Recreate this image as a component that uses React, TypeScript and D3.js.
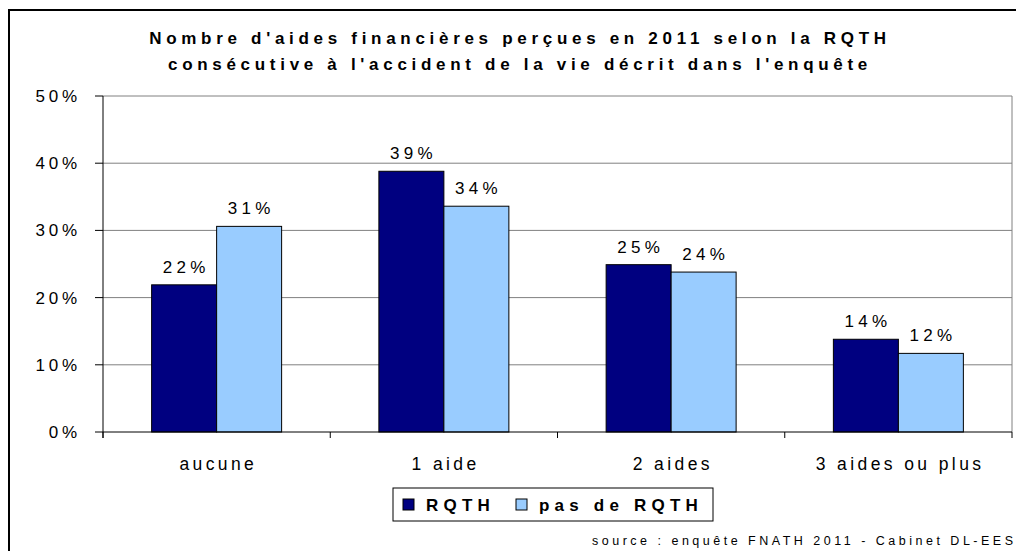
import React from "react";
import * as d3 from "d3";

const categories = ["aucune", "1 aide", "2 aides", "3 aides ou plus"];
const seriesNames = ["RQTH", "pas de RQTH"];
const rqth = [21.9, 38.8, 24.9, 13.8];
const pasRqth = [30.6, 33.6, 23.8, 11.7];
const labelsRqth = ["22%", "39%", "25%", "14%"];
const labelsPas = ["31%", "34%", "24%", "12%"];
const yTicks = [0, 10, 20, 30, 40, 50];
const titleLines = [
  "Nombre d'aides financières perçues en 2011 selon la RQTH",
  "consécutive à l'accident de la vie décrit dans l'enquête",
];
const sourceText = "source : enquête FNATH 2011 - Cabinet DL-EES";

const colors = ["#000080", "#99CCFF"];

export default function App() {
  const W = 1016, H = 551;
  const left = 103, right = 1012, top = 96, bottom = 432;
  const x = d3.scaleBand<string>().domain(categories).range([left, right]).paddingInner(0.428).paddingOuter(0.214);
  const y = d3.scaleLinear().domain([0, 50]).range([bottom, top]);
  const bw = x.bandwidth() / 2;
  const font = "Arial, 'Liberation Sans', sans-serif";
  const series = [
    { vals: rqth, labels: labelsRqth },
    { vals: pasRqth, labels: labelsPas },
  ];
  const step = (right - left) / categories.length;
  const boundaries = d3.range(categories.length + 1).map((i) => left + i * step);

  return (
    <svg width={W} height={H} style={{ position: "absolute", left: 0, top: 0, background: "#fff" }} fontFamily={font}>
      <rect x={0} y={0} width={W} height={H} fill="#fff" />
      <rect x={9} y={10} width={1030} height={600} fill="none" stroke="#000" strokeWidth={2} />
      {titleLines.map((t, i) => (
        <text key={i} x={520} y={44 + i * 26} textAnchor="middle" fontSize={17} fontWeight="bold" letterSpacing={4.7} fill="#000">
          {t}
        </text>
      ))}
      {yTicks.map((t) => (
        <g key={t}>
          {t > 0 && <line x1={left} x2={right} y1={y(t)} y2={y(t)} stroke="#808080" strokeWidth={1} />}
          <line x1={95} x2={left} y1={y(t)} y2={y(t)} stroke="#000" strokeWidth={1} />
          <text x={81} y={y(t) + 6} textAnchor="end" fontSize={17} letterSpacing={3.8} fill="#000">
            {t + "%"}
          </text>
        </g>
      ))}
      <line x1={right} x2={right} y1={top} y2={bottom} stroke="#808080" strokeWidth={1} />
      {series.map((s, si) =>
        categories.map((c, ci) => {
          const bx = (x(c) as number) + si * bw;
          const by = y(s.vals[ci]);
          return (
            <g key={si + "-" + ci}>
              <rect x={bx} y={by} width={bw} height={bottom - by} fill={colors[si]} stroke="#000" strokeWidth={1} />
              <text x={bx + bw / 2 + 2} y={by - 12} textAnchor="middle" fontSize={17} letterSpacing={4.3} fill="#000">
                {s.labels[ci]}
              </text>
            </g>
          );
        })
      )}
      <line x1={left} x2={left} y1={top} y2={bottom + 6} stroke="#000" strokeWidth={1} />
      <line x1={left} x2={right} y1={bottom} y2={bottom} stroke="#000" strokeWidth={1} />
      {boundaries.map((b, i) => (
        <line key={i} x1={b} x2={b} y1={bottom} y2={bottom + 6} stroke="#000" strokeWidth={1} />
      ))}
      {categories.map((c) => (
        <text key={c} x={(x(c) as number) + x.bandwidth() / 2 + 1.7} y={470} textAnchor="middle" fontSize={17.5} letterSpacing={3.4} fill="#000">
          {c}
        </text>
      ))}
      <rect x={393} y={488} width={320} height={33} fill="#fff" stroke="#000" strokeWidth={1} />
      {seriesNames.map((n, i) => {
        const sx = i === 0 ? 403 : 516;
        return (
          <g key={n}>
            <rect x={sx} y={499} width={11} height={11} fill={colors[i]} stroke="#000" strokeWidth={1} />
            <text x={sx + 23} y={511} fontSize={17} fontWeight="bold" letterSpacing={5.2} fill="#000">
              {n}
            </text>
          </g>
        );
      })}
      <text x={592} y={545} fontSize={12.5} letterSpacing={3.5} fill="#000">
        {sourceText}
      </text>
    </svg>
  );
}
